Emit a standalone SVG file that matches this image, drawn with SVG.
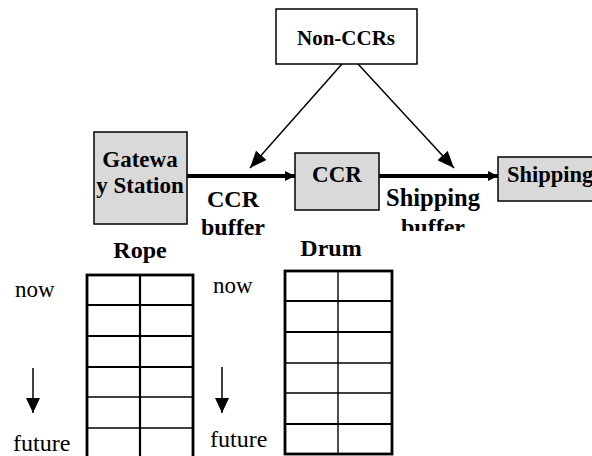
<svg xmlns="http://www.w3.org/2000/svg" width="592" height="456" viewBox="0 0 592 456">
<defs>
<style>
.box{fill:#fff;stroke:#000;stroke-width:1.5}
.gbox{fill:#d9d9d9;stroke:#000;stroke-width:1.5}
.bt{font-weight:bold;fill:#000;text-anchor:middle}
.rt{fill:#000}
.thick{stroke:#000;stroke-width:4;fill:none}
.thin{stroke:#000;stroke-width:1.5;fill:none}
.gout{fill:none;stroke:#000;stroke-width:2.8}
.gin{stroke:#000;stroke-width:2.2}
.gin2{stroke:#000;stroke-width:1.4}
</style>
<marker id="ah" markerUnits="userSpaceOnUse" markerWidth="10" markerHeight="10" refX="10" refY="5" orient="auto">
<path d="M0,0 L10,5 L0,10 z" fill="#000"/>
</marker>
<marker id="ah2" markerUnits="userSpaceOnUse" markerWidth="17" markerHeight="14" refX="17" refY="7" orient="auto">
<path d="M0,0 L17,7 L0,14 z" fill="#000"/>
</marker>
<marker id="ah3" markerUnits="userSpaceOnUse" markerWidth="15" markerHeight="14" refX="15" refY="7" orient="auto">
<path d="M0,0 L15,7 L0,14 z" fill="#000"/>
</marker>
<clipPath id="clipbuf"><rect x="380" y="200" width="120" height="31"/></clipPath>
</defs>

<g id="connectors">
<line class="thick" x1="187" y1="176" x2="295" y2="176" marker-end="url(#ah)"/>
<line class="thick" x1="379" y1="176" x2="498" y2="176" marker-end="url(#ah)"/>
<line class="thin" x1="342" y1="64" x2="250" y2="168" marker-end="url(#ah2)"/>
<line class="thin" x1="358" y1="64" x2="454" y2="168" marker-end="url(#ah2)"/>
</g>

<g font-family="Liberation Serif, Times New Roman, serif">
<g id="non-ccrs">
<rect class="box" x="276" y="9" width="141" height="55"/>
<text class="bt" x="346" y="45" font-size="21">Non-CCRs</text>
</g>

<g id="gateway">
<rect class="gbox" x="94" y="132" width="93" height="92"/>
<text class="bt" x="140" y="167" font-size="23">Gatewa</text>
<text class="bt" x="140" y="193" font-size="23">y Station</text>
</g>

<g id="ccr">
<rect class="gbox" x="295" y="153" width="84" height="57"/>
<text class="bt" x="337" y="182" font-size="23">CCR</text>
</g>

<g id="shipping">
<rect class="gbox" x="498" y="157" width="110" height="44"/>
<text class="bt" x="507" y="182" font-size="22.5" style="text-anchor:start">Shipping</text>
</g>

<g id="ccr-buffer-label">
<text class="bt" x="233" y="207" font-size="24">CCR</text>
<text class="bt" x="233" y="235" font-size="24">buffer</text>
</g>

<g id="shipping-buffer-label">
<text class="bt" x="433" y="206" font-size="24.5">Shipping</text>
<text class="bt" x="433" y="235" font-size="24" clip-path="url(#clipbuf)">buffer</text>
</g>

<g id="rope">
<text class="bt" x="140" y="258" font-size="24">Rope</text>
<text class="rt" x="15" y="297" font-size="23">now</text>
<text class="rt" x="13" y="451" font-size="24">future</text>
<line class="thin" x1="33" y1="368" x2="33" y2="413" marker-end="url(#ah3)"/>
<line class="gin" x1="87" y1="305" x2="193" y2="305"/>
<line class="gin" x1="87" y1="336" x2="193" y2="336"/>
<line class="gin" x1="87" y1="367" x2="193" y2="367"/>
<line class="gin2" x1="87" y1="397" x2="193" y2="397"/>
<line class="gin2" x1="87" y1="428" x2="193" y2="428"/>
<line class="gin" x1="140" y1="275" x2="140" y2="460"/>
<rect class="gout" x="87" y="275" width="106" height="190"/>
</g>

<g id="drum">
<text class="bt" x="331" y="256" font-size="24">Drum</text>
<text class="rt" x="213" y="293" font-size="23">now</text>
<text class="rt" x="210" y="447" font-size="24">future</text>
<line class="thin" x1="222" y1="367" x2="222" y2="413" marker-end="url(#ah3)"/>
<line class="gin" x1="285" y1="301" x2="392" y2="301"/>
<line class="gin" x1="285" y1="332" x2="392" y2="332"/>
<line class="gin2" x1="285" y1="363" x2="392" y2="363"/>
<line class="gin2" x1="285" y1="393" x2="392" y2="393"/>
<line class="gin" x1="285" y1="424" x2="392" y2="424"/>
<line class="gin2" x1="338" y1="271" x2="338" y2="454"/>
<rect class="gout" x="285" y="271" width="107" height="183"/>
</g>
</g>
</svg>
